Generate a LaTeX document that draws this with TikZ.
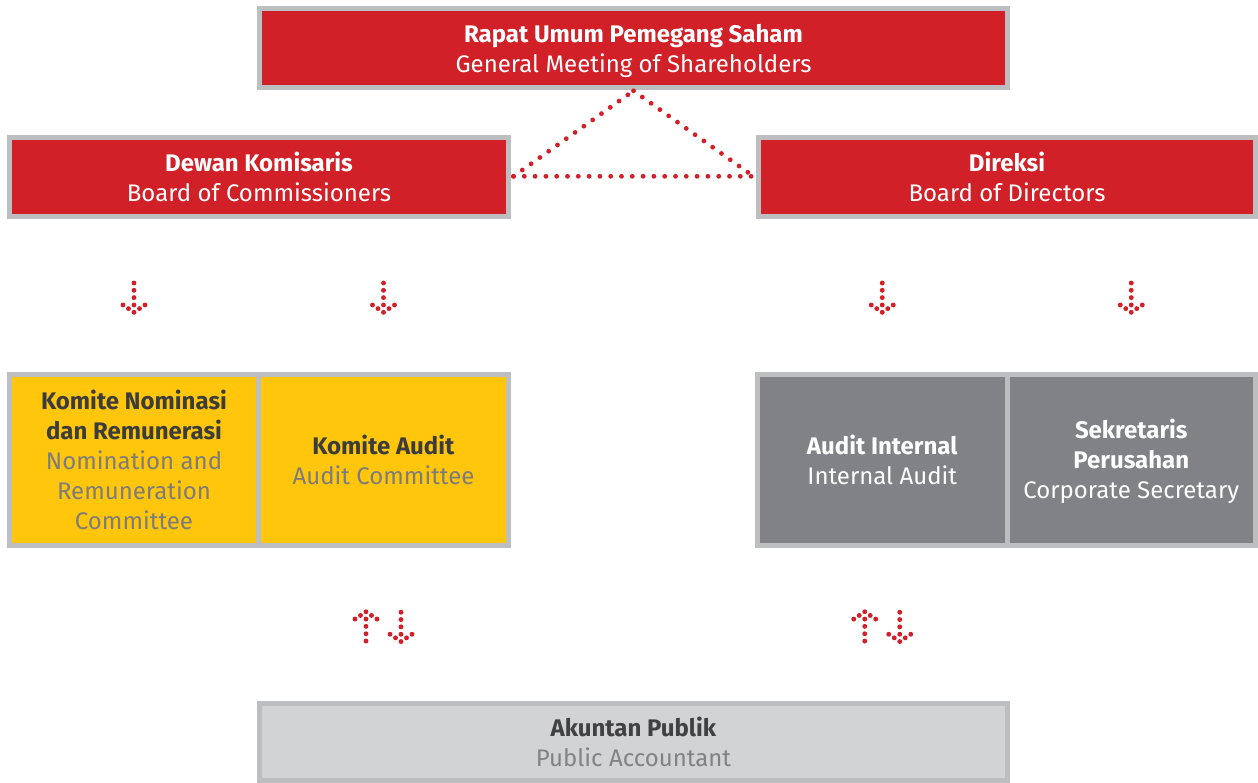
\documentclass[tikz,border=0pt]{standalone}
\usepackage{fontspec}
\setmainfont{Fira Sans}
\usetikzlibrary{calc}
\definecolor{cred}{HTML}{D12027}
\definecolor{cyel}{HTML}{FFC60B}
\definecolor{cdg}{HTML}{808285}
\definecolor{clg}{HTML}{D1D3D4}
\definecolor{cbd}{HTML}{BCBEC0}
\definecolor{ctxd}{HTML}{3C3C3B}
\definecolor{ctxg}{HTML}{7D7C7A}
\definecolor{ctxa}{HTML}{414042}
\newcommand\movedlines[2]{\raisebox{#1}[\height][\depth]{\begin{tabular}{@{}c@{}}#2\end{tabular}}}
\tikzset{
  box/.style={draw=cbd, line width=5pt, inner sep=0pt, outer sep=0pt, align=center,
    font=\fontsize{24}{30}\selectfont},
  redbox/.style={box, fill=cred, text=white},
  yelbox/.style={box, fill=cyel},
  dgbox/.style={box, fill=cdg, text=white},
  lgbox/.style={box, fill=clg},
  dotline/.style={draw=cred, line width=4.8pt, line cap=round, dash pattern=on 0pt off 10.8pt},
  pics/dnarr/.style={code={
    \foreach \p in {(0,0),(0,7.3),(0,14.6),(0,22),(-11,22),(11,22),(-5.5,25.6),(5.5,25.6),(0,29.3)}
      \fill[cred] \p circle (2.45);
  }},
  pics/uparr/.style={code={
    \foreach \p in {(0,29.3),(0,22),(0,14.6),(0,7.3),(-11,7.3),(11,7.3),(-5.5,3.7),(5.5,3.7),(0,0)}
      \fill[cred] \p circle (2.45);
  }},
}
\begin{document}
\begin{tikzpicture}[x=1pt,y=-1pt]
\useasboundingbox[fill=white] (0,0) rectangle (1258,782);
\node[redbox, minimum width=748pt, minimum height=79pt] (rups) at (633.5,48)
  {\movedlines{-3.5pt}{\textbf{Rapat Umum Pemegang Saham}\\General Meeting of Shareholders}};
\node[redbox, minimum width=499pt, minimum height=79pt] (dk) at (259,177)
  {\textbf{Dewan Komisaris}\\Board of Commissioners};
\node[redbox, minimum width=497pt, minimum height=79pt] (dir) at (1007,177)
  {\textbf{Direksi}\\Board of Directors};
\node[yelbox, minimum width=249pt, minimum height=171pt] (kn) at (134,460)
  {\textcolor{ctxd}{\textbf{Komite Nominasi}}\\\textcolor{ctxd}{\textbf{dan Remunerasi}}\\\textcolor{ctxg}{Nomination and}\\\textcolor{ctxg}{Remuneration}\\\textcolor{ctxg}{Committee}};
\node[yelbox, minimum width=250pt, minimum height=171pt] (ka) at (383.5,460)
  {\textcolor{ctxd}{\textbf{Komite Audit}}\\\textcolor{ctxg}{Audit Committee}};
\node[dgbox, minimum width=249.5pt, minimum height=171pt] (ai) at (882.25,460)
  {\textbf{Audit Internal}\\Internal Audit};
\node[dgbox, minimum width=248.5pt, minimum height=171pt] (sc) at (1131.25,460)
  {\movedlines{-2.5pt}{\textbf{Sekretaris}\\\textbf{Perusahan}\\Corporate Secretary}};
\node[lgbox, minimum width=748pt, minimum height=77pt] (ap) at (633.5,741.5)
  {\textcolor{ctxa}{\textbf{Akuntan Publik}}\\\textcolor{cdg}{Public Accountant}};
% dotted triangle
\coordinate (tl) at ([xshift=5pt,yshift=0.7pt]dk.east);
\coordinate (tr) at ([xshift=-5pt,yshift=0.7pt]dir.west);
\coordinate (tt) at ([yshift=-3.3pt]rups.south);
\draw[dotline] (tl) -- (tt);
\draw[dotline] (tt) -- (tr);
\draw[dotline] (tl) -- (tr);
% single down arrows
\foreach \n in {kn,ka,ai,sc}
  \pic at ($(\n.north)!0.5!(\n.north |- dk.south)+(0,-12.5)$) {dnarr};
% up/down pairs
\pic at ($(ka.south)!0.5!(ka.south |- ap.north)+(-17.5,-12.5)$) {uparr};
\pic at ($(ka.south)!0.5!(ka.south |- ap.north)+(17.5,-12)$) {dnarr};
\pic at ($(ai.south)!0.5!(ai.south |- ap.north)+(-17.5,-12.5)$) {uparr};
\pic at ($(ai.south)!0.5!(ai.south |- ap.north)+(17.5,-12)$) {dnarr};
\end{tikzpicture}
\end{document}
